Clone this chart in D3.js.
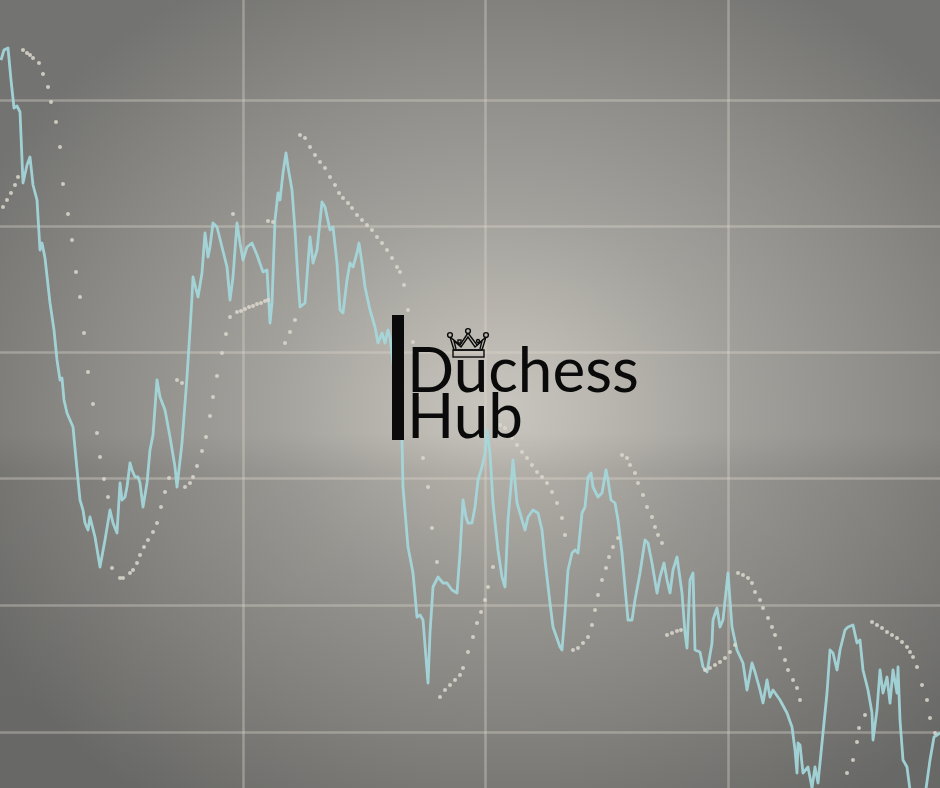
<!DOCTYPE html>
<html>
<head>
<meta charset="utf-8">
<script src="https://cdn.jsdelivr.net/npm/d3@7"></script>
<style>
  html, body { margin: 0; padding: 0; background: #7a7a78; }
  svg { display: block; }
</style>
</head>
<body>
<svg id="chart" width="940" height="788"></svg>
<script>
// ---- data (time index, price level; higher value = higher price) ----
const priceT = [1,4,8,11,14,17,20,23,27,30,33,37,40,42,45,50,54,57,60,62,64,67,73,78,80,83,85,88,90,95,100,105,110,113,117,120,122,125,127,130,132,135,138,140,143,147,150,153,157,160,165,170,175,177,182,187,190,192,193,197,198,202,205,208,210,213,217,222,227,230,233,237,240,243,247,252,257,263,267,270,272,275,278,280,283,286,288,292,295,298,300,305,308,310,313,317,322,325,330,333,337,340,343,347,350,353,357,359,362,365,370,375,378,382,385,388,390,395,400,402,403,408,413,417,420,423,428,430,433,438,443,447,452,457,460,463,466,468,472,475,478,482,485,487,490,493,498,502,505,508,512,513,517,520,525,528,533,538,542,545,550,553,560,562,565,568,572,575,578,582,585,588,591,593,598,602,606,608,611,615,618,622,625,628,632,635,640,645,648,652,657,660,664,667,670,673,677,682,685,687,690,693,695,700,703,707,712,713,717,720,723,728,732,737,743,747,752,755,760,763,767,770,773,780,787,792,795,797,798,800,803,808,812,815,818,823,827,830,833,837,840,845,848,853,857,860,863,868,872,873,877,880,883,887,890,893,897,898,900,903,907,910,914,925,930,934,940];
const priceY = [60,50,48,80,108,106,112,183,165,157,185,200,250,243,258,303,330,360,380,378,400,413,427,480,500,510,523,530,517,537,567,540,510,523,533,483,500,497,487,463,470,477,477,483,507,483,450,435,380,397,410,437,467,487,443,377,330,297,277,293,297,273,233,257,247,223,227,247,267,300,277,223,243,260,247,243,255,272,270,323,303,220,193,200,173,153,167,190,230,280,307,303,263,237,263,250,202,207,230,227,263,310,313,280,263,267,253,243,263,287,310,327,343,333,343,330,337,380,420,440,487,547,573,617,615,620,683,633,587,577,583,583,590,593,553,500,517,523,523,507,480,467,453,430,453,503,550,577,587,520,473,460,503,513,530,517,510,513,530,560,603,627,647,650,613,570,553,550,553,513,507,477,473,487,497,493,470,480,500,503,520,553,587,620,620,600,573,540,543,563,593,577,563,580,593,570,557,593,633,648,580,573,650,652,667,672,643,620,608,627,620,573,627,650,663,690,663,672,690,703,680,697,690,700,713,727,750,773,743,745,773,767,788,767,783,733,693,650,653,670,650,630,627,625,643,640,670,690,713,740,710,670,693,677,703,670,693,667,720,760,767,790,796,796,760,737,733];
const priceV = priceY.map(y => 788 - y);

// parabolic SAR dots
const sarT = [3,7,11,15,18, 23,27,30,33,39,43,48,51,56,60,63,68,72,76,80,84,88,93,97,100,104,108,
  112,120,123,130,133,137,140,144,148,153,157,161,165,169, 177,182,
  185,190,193,197,202,206,210,213,217,222,226,230,237,241,245,249,253,257,261,265,268, 233,268,273,
  285,290,295,
  300,305,310,315,320,325,330,335,339,343,348,352,357,362,367,372,377,382,387,392,397,400,404,408,413,418,423,428,432,437,
  440,445,450,455,460,463,468,473,477,481,485,488,493,
  500,505,512,517,522,527,532,537,542,547,552,557,562,565,
  573,578,583,588,592,595,598,602,606,609,613,618,
  622,627,630,635,638,643,647,652,655,658,662,
  667,672,677,681,
  705,710,715,720,725,730,735,
  738,743,748,752,755,760,763,768,772,775,780,785,788,793,797,800,
  847,853,857,859,865,
  872,877,882,887,892,897,902,907,910,913,917,922,927,930,935];
const sarY = [207,200,193,185,177, 50,53,55,58,63,74,87,102,122,147,184,214,240,272,297,333,372,404,433,457,479,497,
  568,578,578,573,570,563,555,547,540,532,523,507,492,478, 380,383,
  487,483,477,466,451,437,416,397,376,353,334,317,312,311,309,307,306,304,303,301,300, 214,221,222,
  343,332,320,
  135,138,147,155,162,168,177,185,193,198,203,208,215,220,225,230,237,243,250,258,267,272,285,310,342,395,458,487,528,562,
  697,690,685,680,675,668,652,637,623,612,600,587,567,
  425,428,438,445,452,458,465,472,477,483,492,503,518,535,
  650,648,643,637,625,610,595,580,568,557,547,538,
  455,458,465,473,483,495,507,517,527,535,543,
  635,633,631,630,
  670,668,665,662,658,652,645,
  573,575,578,583,592,600,608,618,627,635,648,660,670,680,688,700,
  773,760,742,728,715,
  622,625,628,632,635,638,642,647,652,657,667,685,700,718,733];
const sarV = sarY.map(y => 788 - y);

// grid ticks
const xTicks = [243, 485, 728];
const yTicks = [688, 562, 436, 310, 183, 56];

// logo text
const logoLine1 = "Duchess";
const logoLine2 = "Hub";

// ---- drawing ----
const W = 940, H = 788;
const svg = d3.select("#chart");
const x = d3.scaleLinear().domain([0, 940]).range([0, W]);
const y = d3.scaleLinear().domain([0, 788]).range([H, 0]);

const defs = svg.append("defs");
const rg = defs.append("radialGradient").attr("id", "bg")
  .attr("gradientUnits", "userSpaceOnUse")
  .attr("cx", 500).attr("cy", 410).attr("r", 580)
  .attr("gradientTransform", "translate(500 410) scale(1 0.85) translate(-500 -410)");
[[0, "#c9c6bf"], [0.15, "#bcb9b2"], [0.4, "#a3a19c"], [0.7, "#8c8b87"], [1, "#737371"]]
  .forEach(([o, c]) => rg.append("stop").attr("offset", o).attr("stop-color", c));
const lg = defs.append("linearGradient").attr("id", "band").attr("x1", 0).attr("y1", 0).attr("x2", 0).attr("y2", 1);
[[0, 0], [0.55, 0], [0.6, 0.07], [1, 0.1]].forEach(([o, a]) =>
  lg.append("stop").attr("offset", o).attr("stop-color", "#000").attr("stop-opacity", a));

svg.append("rect").attr("width", W).attr("height", H).attr("fill", "url(#bg)");
svg.append("rect").attr("width", W).attr("height", H).attr("fill", "url(#band)");

// gridlines via axes
svg.append("g").attr("class", "grid")
  .call(d3.axisBottom(x).tickValues(xTicks).tickSize(H).tickFormat(""));
svg.append("g").attr("class", "grid")
  .call(d3.axisRight(y).tickValues(yTicks).tickSize(W).tickFormat(""));
svg.selectAll(".grid .domain").remove();
svg.selectAll(".grid line").attr("stroke", "#ddd8cd").attr("stroke-opacity", 0.38).attr("stroke-width", 2.5);

// price line
const pts = priceT.map((t, i) => [t, priceV[i]]);
svg.append("path").datum(pts)
  .attr("fill", "none")
  .attr("stroke", "#a5d8dc")
  .attr("stroke-width", 2.8)
  .attr("stroke-linejoin", "round")
  .attr("opacity", 0.92)
  .attr("d", d3.line().x(d => x(d[0])).y(d => y(d[1])));

// SAR dots
svg.append("g").selectAll("circle").data(sarT.map((t, i) => [t, sarV[i]])).join("circle")
  .attr("cx", d => x(d[0])).attr("cy", d => y(d[1])).attr("r", 2)
  .attr("fill", "#dcd8cc").attr("opacity", 0.85);

// logo
const logo = svg.append("g");
logo.append("rect").attr("x", 392).attr("y", 315).attr("width", 12).attr("height", 125).attr("fill", "#0a0a0a");
const txt = logo.append("text")
  .attr("font-family", "Lato, 'Open Sans', sans-serif").attr("font-size", 62).attr("fill", "#0a0a0a");
txt.append("tspan").attr("x", 407).attr("y", 392).text(logoLine1);
txt.append("tspan").attr("x", 407).attr("y", 438).text(logoLine2);

// crown
const crown = logo.append("g").attr("fill", "none").attr("stroke", "#0a0a0a").attr("stroke-width", 1.4);
crown.append("path").attr("d", "M454,350 L450,337 L460,345 L468,333 L477,345 L486,337 L482,350 Z");
crown.append("path").attr("d", "M456,349 L454,341 L461,347 L468,337 L475,347 L482,341 L480,349");
crown.append("rect").attr("x", 453).attr("y", 350).attr("width", 31).attr("height", 7);
[[450, 335], [468, 331], [486, 335]].forEach(([cx, cy]) =>
  crown.append("circle").attr("cx", cx).attr("cy", cy).attr("r", 2.4).attr("fill", "#bab7b0"));
crown.append("rect").attr("x", 458).attr("y", 340).attr("width", 3).attr("height", 3);
crown.append("circle").attr("cx", 478).attr("cy", 341).attr("r", 1.5);
</script>
</body>
</html>
